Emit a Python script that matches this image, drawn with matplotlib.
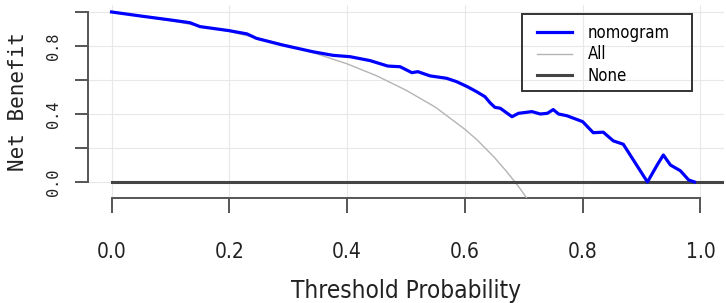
import matplotlib
matplotlib.use('Agg')
import matplotlib.pyplot as plt
from matplotlib.patches import Rectangle

# кривая решений (стандартизированная чистая выгода)
thresholds = [0.0, 0.05, 0.10, 0.133, 0.15, 0.20, 0.23, 0.246, 0.29, 0.342, 0.376,
              0.405, 0.439, 0.469, 0.49, 0.51, 0.52, 0.541, 0.569, 0.586, 0.604,
              0.62, 0.634, 0.643, 0.651, 0.66, 0.68, 0.691, 0.714, 0.728, 0.74,
              0.75, 0.759, 0.773, 0.80, 0.818, 0.835, 0.852, 0.869, 0.91, 0.927,
              0.937, 0.949, 0.966, 0.98, 0.99]
nomogram = [1.0, 0.976, 0.953, 0.937, 0.914, 0.89, 0.871, 0.845, 0.806, 0.766, 0.745,
            0.737, 0.714, 0.682, 0.678, 0.643, 0.649, 0.624, 0.61, 0.59, 0.561,
            0.531, 0.502, 0.465, 0.439, 0.434, 0.384, 0.404, 0.414, 0.40, 0.404,
            0.426, 0.40, 0.39, 0.355, 0.29, 0.293, 0.242, 0.222, 0.0, 0.103,
            0.159, 0.10, 0.066, 0.012, 0.0]

all_x = [0.0, 0.1, 0.2, 0.3, 0.35, 0.4, 0.45, 0.5, 0.55, 0.6, 0.62, 0.65, 0.66,
         0.67, 0.685, 0.695, 0.705]
all_y = [1.0, 0.949, 0.885, 0.803, 0.752, 0.695, 0.625, 0.54, 0.44, 0.31, 0.25,
         0.145, 0.105, 0.065, 0.0, -0.045, -0.095]

none_x = [0.0, 1.05]
none_y = [0.0, 0.0]

x_ticks = [0.0, 0.2, 0.4, 0.6, 0.8, 1.0]
x_labels = ['0.0', '0.2', '0.4', '0.6', '0.8', '1.0']
y_ticks = [0.0, 0.2, 0.4, 0.6, 0.8, 1.0]
y_labels = ['0.0', '', '0.4', '', '0.8', '']

cond = {'family': 'DejaVu Sans', 'stretch': 'condensed'}
mono = ['DejaVu Sans Mono']
axcol = '#555555'

fig = plt.figure(figsize=(7.26, 3.03), dpi=100)
ax = fig.add_axes([88 / 726, 1 - 198 / 303, 636 / 726, 193 / 303])

l_all, = ax.plot(all_x, all_y, color='#b4b4b4', lw=1.0, zorder=3)
l_none, = ax.plot(none_x, none_y, color='#444444', lw=2.2, zorder=3)
l_nomo, = ax.plot(thresholds, nomogram, color='#0000ff', lw=2.3, zorder=4)

ax.set_xlim(-0.04, 1.04)
ax.set_ylim(-0.094, 1.041)

for v in x_ticks:
    ax.axvline(v, color='#e8e8e8', lw=0.8, zorder=1)
for v in y_ticks:
    ax.axhline(v, color='#e8e8e8', lw=0.8, zorder=1)

for s in ['top', 'right']:
    ax.spines[s].set_visible(False)
ax.spines['left'].set_bounds(0, 1)
ax.spines['bottom'].set_bounds(0, 1)
for s in ['left', 'bottom']:
    ax.spines[s].set_color(axcol)
    ax.spines[s].set_linewidth(1.4)

ax.set_xticks(x_ticks)
ax.set_xticklabels(x_labels, fontsize=15, color='#222222', **cond)
ax.set_yticks(y_ticks)
ax.set_yticklabels(y_labels, family=mono, fontsize=11, color='#222222',
                   rotation=90, va='center')
ax.tick_params(axis='x', length=10.8, width=1.4, color=axcol, pad=21)
ax.tick_params(axis='y', length=9.4, width=1.4, color=axcol, pad=10)

ax.set_xlabel('Threshold Probability', fontsize=17.5, color='#222222',
              labelpad=12, **cond)
ax.set_ylabel('Net Benefit', family=mono, fontsize=15, color='#222222',
              labelpad=13)

# легенда
fig.patches.append(Rectangle((522 / 726, 1 - 91 / 303), 170 / 726, 77 / 303,
                             transform=fig.transFigure, fill=False,
                             edgecolor='#333333', lw=1.4, zorder=5))
fig.legend([l_nomo, l_all, l_none], ['nomogram', 'All', 'None'],
           loc='upper left', bbox_to_anchor=(537 / 726, 1 - 24 / 303),
           frameon=False, borderpad=0, borderaxespad=0,
           prop={'family': 'DejaVu Sans', 'stretch': 'condensed', 'size': 12},
           handlelength=2.1, handletextpad=0.95, labelspacing=0.2)

fig.savefig('out.png', dpi=100)
